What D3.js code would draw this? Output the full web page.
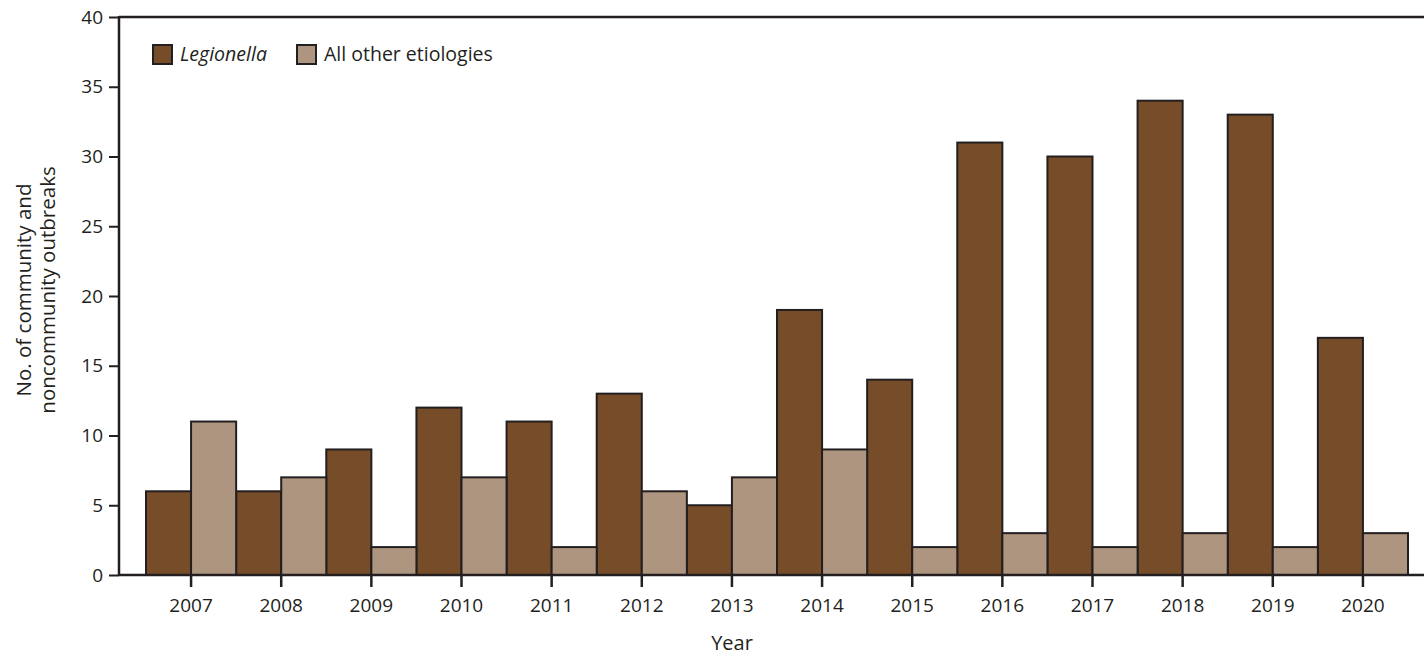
<!DOCTYPE html>
<html><head><meta charset="utf-8">
<script src="https://cdn.jsdelivr.net/npm/d3@7"></script>
<style>
html,body{margin:0;padding:0;background:#fff;}
text{font-family:"Open Sans","Noto Sans",sans-serif;fill:#231f20;}
</style></head>
<body><svg id="c" width="1424" height="656"></svg>
<script>
const years = [2007,2008,2009,2010,2011,2012,2013,2014,2015,2016,2017,2018,2019,2020];
const legionella = [6,6,9,12,11,13,5,19,14,31,30,34,33,17];
const otherEtiologies = [11,7,2,7,2,6,7,9,2,3,2,3,2,3];
const yTicks = [0,5,10,15,20,25,30,35,40];
const seriesNames = ["Legionella","All other etiologies"];
const colors = ["#774d29","#ae957f"];
const ink = "#231f20";

(function(){
const svg = d3.select("#c");
const mLeft = 119, mTop = 17, mBottom = 575, mRight = 1424;
const y = d3.scaleLinear().domain([0,40]).range([mBottom, mTop]);
const x = d3.scaleBand().domain(years).range([146, 1408]).padding(0);
const xs = d3.scaleBand().domain([0,1]).range([0, x.bandwidth()]);

// bars
const series = [legionella, otherEtiologies];
series.forEach((vals, si) => {
  svg.append("g").selectAll("rect").data(years).join("rect")
    .attr("x", (d) => x(d) + xs(si))
    .attr("width", xs.bandwidth())
    .attr("y", (d,i) => y(vals[i]))
    .attr("height", (d,i) => y(0) - y(vals[i]))
    .attr("fill", colors[si])
    .attr("stroke", ink)
    .attr("stroke-width", 2);
});

// y axis
const ya = svg.append("g").attr("transform", `translate(${mLeft},0)`)
  .call(d3.axisLeft(y).tickValues(yTicks).tickSize(10).tickPadding(6));
ya.select(".domain").remove();
ya.selectAll(".tick line").attr("stroke", ink).attr("stroke-width", 2);
ya.selectAll(".tick text").style("font-size","19px").attr("fill", ink);
svg.append("line").attr("x1",mLeft).attr("x2",mLeft).attr("y1",mTop-1).attr("y2",mBottom+1)
  .attr("stroke",ink).attr("stroke-width",2.5);
svg.append("line").attr("x1",mLeft).attr("x2",mRight).attr("y1",mTop).attr("y2",mTop)
  .attr("stroke",ink).attr("stroke-width",2.5);

// x axis
const xa = svg.append("g").attr("transform", `translate(0,${mBottom})`)
  .call(d3.axisBottom(x).tickSize(12));
xa.select(".domain").remove();
xa.selectAll(".tick line").attr("stroke", ink).attr("stroke-width", 2.5);
xa.selectAll(".tick text").style("font-size","19px").attr("fill", ink)
  .attr("y", 37).attr("dy", 0);
svg.append("line").attr("x1",mLeft).attr("x2",mRight).attr("y1",mBottom).attr("y2",mBottom)
  .attr("stroke",ink).attr("stroke-width",2.5);

// axis titles
svg.append("text").attr("x", 732).attr("y", 650).attr("text-anchor","middle")
  .style("font-size","20px").text("Year");
const yl = svg.append("text").attr("transform","translate(0,290) rotate(-90)")
  .attr("text-anchor","middle").style("font-size","20.5px");
yl.append("tspan").attr("x",0).attr("y",31).text("No. of community and");
yl.append("tspan").attr("x",0).attr("y",55).text("noncommunity outbreaks");

// legend
const lg = [{x:153, t:seriesNames[0], it:true},{x:297, t:seriesNames[1], it:false}];
lg.forEach((d,i) => {
  svg.append("rect").attr("x", d.x).attr("y", 45).attr("width",19).attr("height",19)
    .attr("fill", colors[i]).attr("stroke", ink).attr("stroke-width",2);
  svg.append("text").attr("x", d.x + 27).attr("y", 61).style("font-size","19.5px")
    .style("font-style", d.it ? "italic" : "normal").text(d.t);
});
})();
</script></body></html>
